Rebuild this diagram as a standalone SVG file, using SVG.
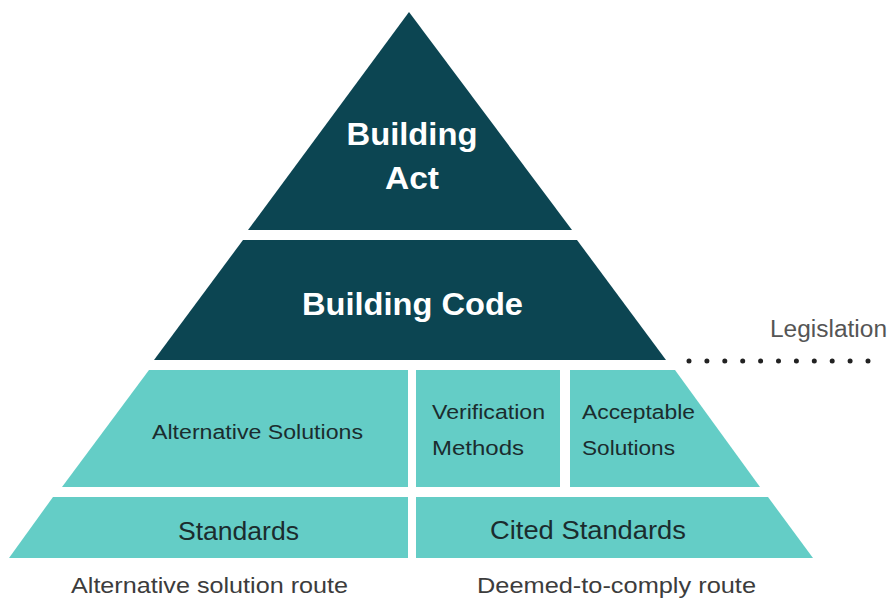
<svg xmlns="http://www.w3.org/2000/svg" width="889" height="599" viewBox="0 0 889 599">
<style>
.dark{fill:#0c4552}
.light{fill:#64cdc6}
.tw{font-family:"Liberation Sans",Arial,sans-serif;font-weight:bold;fill:#ffffff;text-anchor:middle}
.td{font-family:"Liberation Sans",Arial,sans-serif;fill:#1b2c2e}
.tg{font-family:"Liberation Sans",Arial,sans-serif;fill:#3c3c3c}
</style>
<rect width="889" height="599" fill="#ffffff"/>
<g id="building-act">
<polygon class="dark" points="409,12 572,230 248,230"/>
<text class="tw" x="412" y="145" font-size="31" textLength="131" lengthAdjust="spacingAndGlyphs">Building</text>
<text class="tw" x="412" y="189" font-size="31" textLength="54" lengthAdjust="spacingAndGlyphs">Act</text>
</g>
<g id="building-code">
<polygon class="dark" points="243,240 577,240 666,360 154,360"/>
<text class="tw" x="412.5" y="315" font-size="31" textLength="221" lengthAdjust="spacingAndGlyphs">Building Code</text>
</g>
<g id="alternative-solutions">
<polygon class="light" points="149,370 408,370 408,487 62,487"/>
<text class="td" x="152" y="439" font-size="20" textLength="211" lengthAdjust="spacingAndGlyphs">Alternative Solutions</text>
</g>
<g id="verification-methods">
<rect class="light" x="416" y="370" width="144" height="117"/>
<text class="td" x="432" y="419" font-size="20" textLength="113" lengthAdjust="spacingAndGlyphs">Verification</text>
<text class="td" x="432" y="455" font-size="20" textLength="92" lengthAdjust="spacingAndGlyphs">Methods</text>
</g>
<g id="acceptable-solutions">
<polygon class="light" points="570,370 675,370 760,487 570,487"/>
<text class="td" x="582" y="419" font-size="20" textLength="113" lengthAdjust="spacingAndGlyphs">Acceptable</text>
<text class="td" x="582" y="455" font-size="20" textLength="93" lengthAdjust="spacingAndGlyphs">Solutions</text>
</g>
<g id="standards">
<polygon class="light" points="53,497 408,497 408,558 9,558"/>
<text class="td" x="178" y="540" font-size="25" textLength="121" lengthAdjust="spacingAndGlyphs">Standards</text>
</g>
<g id="cited-standards">
<polygon class="light" points="416,497 768,497 813,558 416,558"/>
<text class="td" x="490" y="539" font-size="25" textLength="196" lengthAdjust="spacingAndGlyphs">Cited Standards</text>
</g>
<g id="legislation">
<text x="770" y="337" font-family="'Liberation Sans',Arial,sans-serif" font-size="23" fill="#555555" textLength="117" lengthAdjust="spacingAndGlyphs">Legislation</text>
</g>
<g id="route-labels">
<text class="tg" x="71" y="593" font-size="22" textLength="277" lengthAdjust="spacingAndGlyphs">Alternative solution route</text>
<text class="tg" x="477" y="593" font-size="22" textLength="279" lengthAdjust="spacingAndGlyphs">Deemed-to-comply route</text>
</g>
<g id="connectors">
<line x1="689" y1="361" x2="871" y2="361" stroke="#222222" stroke-width="5" stroke-linecap="round" stroke-dasharray="0 17.9"/>
</g>
</svg>
